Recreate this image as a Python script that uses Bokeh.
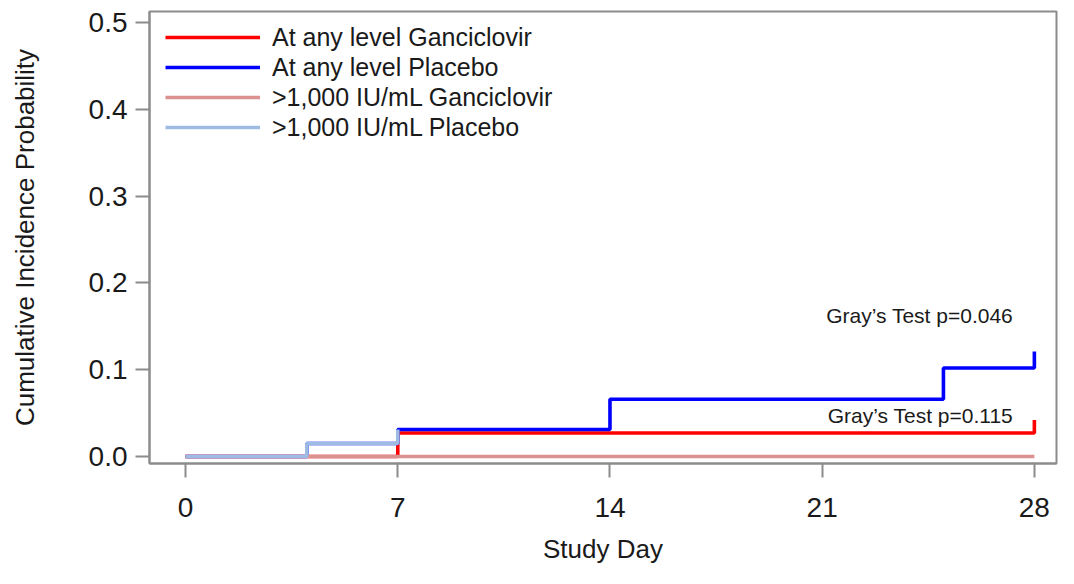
from bokeh.plotting import figure
from bokeh.models import Range1d, FixedTicker, Legend, LegendItem
from bokeh.core.properties import value
from bokeh.embed import file_html
from bokeh.resources import INLINE

# ---- data ----
any_gan_day = [0, 7, 28]
any_gan_val = [0.0, 0.027, 0.042]
any_pla_day = [0, 4, 7, 14, 25, 28]
any_pla_val = [0.0, 0.015, 0.031, 0.066, 0.102, 0.121]
hi_gan_day = [0, 28]
hi_gan_val = [0.0, 0.0]
hi_pla_day = [0, 4, 7]
hi_pla_val = [0.0, 0.015, 0.031]

series_names = ["At any level Ganciclovir", "At any level Placebo",
                ">1,000 IU/mL Ganciclovir", ">1,000 IU/mL Placebo"]
series_colors = ["#ff0000", "#0000ff", "#dc9191", "#9dbbe3"]

x_ticks = [0, 7, 14, 21, 28]
x_tick_labels = ["0", "7", "14", "21", "28"]
y_ticks = [0.0, 0.1, 0.2, 0.3, 0.4, 0.5]
y_tick_labels = ["0.0", "0.1", "0.2", "0.3", "0.4", "0.5"]

ann_text = ["Gray\u2019s Test p=0.046", "Gray\u2019s Test p=0.115"]
ann_x = [27.3, 27.3]
ann_y = [0.162, 0.047]

FONT = "Liberation Sans"
GRAY = "#8c8c8c"
TXT = "#1a1a1a"

p = figure(width=1058, height=568, output_backend="svg", toolbar_location=None,
           x_range=Range1d(-1.19, 28.73), y_range=Range1d(-0.0081, 0.5127),
           min_border_left=149, min_border_right=2, min_border_top=11,
           min_border_bottom=105)
p.xgrid.visible = False
p.ygrid.visible = False
p.outline_line_color = GRAY
p.outline_line_width = 2

series = [(any_gan_day, any_gan_val), (any_pla_day, any_pla_val),
          (hi_gan_day, hi_gan_val), (hi_pla_day, hi_pla_val)]
items = []
for (d, v), name, col in zip(series, series_names, series_colors):
    r = p.step(d, v, mode="after", line_color=col, line_width=3.6)
    items.append(LegendItem(label=name, renderers=[r]))

p.text(x=ann_x, y=ann_y, text=ann_text, text_align="right", text_baseline="middle",
       text_font=value(FONT), text_font_size="21px", text_color=TXT)

# frame height = 568 - 11 - 105 = 452
legend = Legend(items=items, location=(16, 452 - 11 - 120))
legend.margin = 0
legend.padding = 0
legend.spacing = 0
legend.border_line_alpha = 0
legend.background_fill_alpha = 0
legend.glyph_width = 95
legend.glyph_height = 30
legend.label_height = 30
legend.label_standoff = 12
legend.label_text_font = FONT
legend.label_text_font_size = "25px"
legend.label_text_color = TXT
p.add_layout(legend)

for ax in (p.xaxis[0], p.yaxis[0]):
    ax.axis_line_color = GRAY
    ax.axis_line_width = 2
    ax.major_tick_line_color = GRAY
    ax.major_tick_line_width = 2
    ax.major_tick_out = 14
    ax.major_tick_in = 0
    ax.minor_tick_line_color = None
    ax.major_label_text_font = FONT
    ax.major_label_text_font_size = "28px"
    ax.major_label_text_color = TXT
    ax.axis_label_text_font = FONT
    ax.axis_label_text_font_size = "26px"
    ax.axis_label_text_font_style = "normal"
    ax.axis_label_text_color = TXT

p.xaxis.ticker = FixedTicker(ticks=x_ticks)
p.xaxis.major_label_overrides = dict(zip(x_ticks, x_tick_labels))
p.yaxis.ticker = FixedTicker(ticks=y_ticks)
p.yaxis.major_label_overrides = dict(zip(y_ticks, y_tick_labels))
p.xaxis.axis_label = "Study Day"
p.yaxis.axis_label = "Cumulative Incidence Probability"
p.xaxis.major_label_standoff = 20
p.xaxis.axis_label_standoff = 14
p.yaxis.major_label_standoff = 8
p.yaxis.axis_label_standoff = 46

open("out.html", "w").write(file_html(p, INLINE))
